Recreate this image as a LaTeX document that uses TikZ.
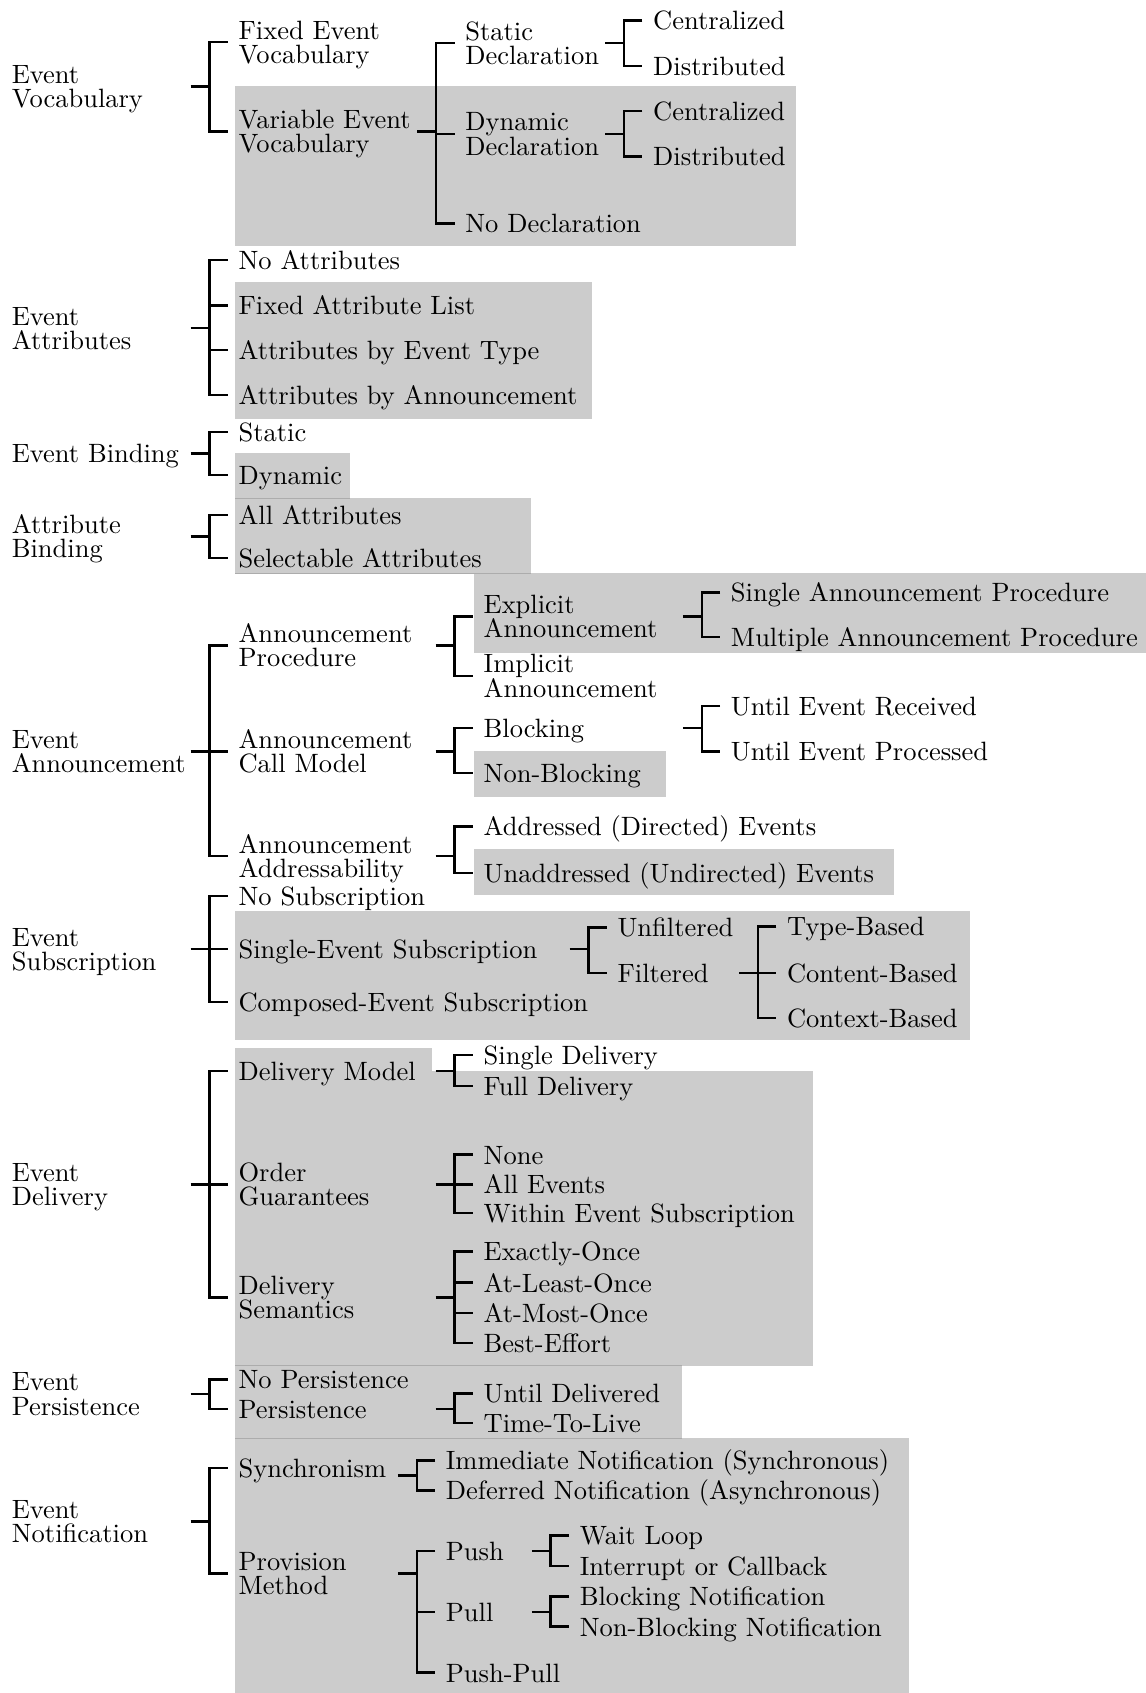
\documentclass[tikz,border=0pt]{standalone}
\usepackage{fontspec}
\definecolor{boxgray}{RGB}{204,204,204}
\definecolor{seamgray}{RGB}{172,172,172}
\newcommand\lblfont{\fontsize{10.6}{9.7}\selectfont}
% two stacked lines; the box baseline is the first line
\newcommand\twoln[2]{\vtop{\baselineskip=9.7pt\lineskiplimit=-20pt\hbox{#1}\hbox{#2}}}
% bracket: stem from the parent row, spine at x=#2, top and bottom ticks
\newcommand\brk[4]{%
  \pgfmathsetmacro\brkA{#2-17.5}%
  \pgfmathsetmacro\brkB{#2+17}%
  \draw[brline] (\brkA,0 |- #1) -- (#2,0 |- #1);
  \draw[brline] (\brkB,0 |- #3.west) -| (#2,0 |- #4.west) -- (\brkB,0 |- #4.west);
}
% extra tick for a middle child
\newcommand\twig[2]{%
  \pgfmathsetmacro\brkB{#1+17}%
  \draw[brline] (#1,0 |- #2.west) -- (\brkB,0 |- #2.west);
}
\begin{document}
\begin{tikzpicture}[x=0.432pt,y=-0.432pt,
  lbl/.style={inner sep=0pt,outer sep=0pt,anchor=west,text height=9.5pt,text depth=2pt,font=\lblfont},
  lbl2/.style={lbl,text height=7.6pt,text depth=10pt},
  brline/.style={line width=1pt,line cap=butt,line join=miter},
  shade/.style={fill=boxgray,draw=none},
  seam/.style={draw=seamgray,line width=0.45pt}]
\useasboundingbox (0,0) rectangle (1061,1568);

% shaded groups
\fill[shade] (218,80) rectangle (737,228);
\fill[shade] (218,261) rectangle (548,388);
\fill[shade] (218,420) rectangle (324,462);
\fill[shade] (218,461) rectangle (492,531);
\fill[shade] (439,531) rectangle (1061,605);
\fill[shade] (439,696) rectangle (617,738);
\fill[shade] (439,786) rectangle (828,829);
\fill[shade] (218,844) rectangle (898,963);
\fill[shade] (218,971) rectangle (400,993);
\fill[shade] (218,992) rectangle (753,1265);
\fill[shade] (218,1264) rectangle (632,1332);
\fill[shade] (218,1332) rectangle (842,1568);
% seams where shaded groups meet
\draw[seam] (218,461.5) -- (324,461.5);
\draw[seam] (218,531) -- (492,531);
\draw[seam] (218,1264.5) -- (632,1264.5);
\draw[seam] (218,1332) -- (632,1332);

% ---- Event Vocabulary
\node[lbl2] (ev) at (11,80) {\twoln{Event}{Vocabulary}};
\node[lbl2] (fev) at (221,39) {\twoln{Fixed Event}{Vocabulary}};
\node[lbl2] (vev) at (221,122) {\twoln{Variable Event}{Vocabulary}};
\node[lbl2] (sd) at (431,40) {\twoln{Static}{Declaration}};
\node[lbl2] (dd) at (431,124) {\twoln{Dynamic}{Declaration}};
\node[lbl] (nd) at (431,207) {No Declaration};
\node[lbl] (c1) at (605,19) {Centralized};
\node[lbl] (d1) at (605,61) {Distributed};
\node[lbl] (c2) at (605,103) {Centralized};
\node[lbl] (d2) at (605,145) {Distributed};
\brk{ev.west}{194}{fev}{vev}
\brk{vev.west}{404}{sd}{nd}
\twig{404}{dd}
\brk{sd.west}{578}{c1}{d1}
\brk{dd.west}{578}{c2}{d2}

% ---- Event Attributes
\node[lbl2] (ea) at (11,304) {\twoln{Event}{Attributes}};
\node[lbl] (na) at (221,241) {No Attributes};
\node[lbl] (fal) at (221,283) {Fixed Attribute List};
\node[lbl] (abet) at (221,324) {Attributes by Event Type};
\node[lbl] (aba) at (221,366) {Attributes by Announcement};
\brk{ea.west}{194}{na}{aba}
\twig{194}{fal}
\twig{194}{abet}

% ---- Event Binding
\node[lbl] (eb) at (11,420) {Event Binding};
\node[lbl] (bst) at (221,400) {Static};
\node[lbl] (bdy) at (221,440) {Dynamic};
\brk{eb.west}{194}{bst}{bdy}

% ---- Attribute Binding
\node[lbl2] (ab) at (11,497) {\twoln{Attribute}{Binding}};
\node[lbl] (aall) at (221,477) {All Attributes};
\node[lbl] (asel) at (221,517) {Selectable Attributes};
\brk{ab.west}{194}{aall}{asel}

% ---- Event Announcement
\node[lbl2] (ean) at (11,696) {\twoln{Event}{Announcement}};
\node[lbl2] (ap) at (221,598) {\twoln{Announcement}{Procedure}};
\node[lbl2] (acm) at (221,696) {\twoln{Announcement}{Call Model}};
\node[lbl2] (aad) at (221,793) {\twoln{Announcement}{Addressability}};
\node[lbl2] (ex) at (448,571) {\twoln{Explicit}{Announcement}};
\node[lbl2] (im) at (448,626) {\twoln{Implicit}{Announcement}};
\node[lbl] (sap) at (677,548.7) {Single Announcement Procedure};
\node[lbl] (map) at (677,590) {Multiple Announcement Procedure};
\node[lbl] (blk) at (448,674.3) {Blocking};
\node[lbl] (nbl) at (448,716) {Non-Blocking};
\node[lbl] (uer) at (677,654) {Until Event Received};
\node[lbl] (uep) at (677,696) {Until Event Processed};
\node[lbl] (adr) at (448,765.4) {Addressed (Directed) Events};
\node[lbl] (unadr) at (448,808.6) {Unaddressed (Undirected) Events};
\brk{ean.west}{194}{ap}{aad}
\twig{194}{acm}
\brk{ap.west}{421}{ex}{im}
\brk{ex.west}{650}{sap}{map}
\brk{acm.west}{421}{blk}{nbl}
\brk{blk.west}{650}{uer}{uep}
\brk{aad.west}{421}{adr}{unadr}

% ---- Event Subscription
\node[lbl2] (es) at (11,879) {\twoln{Event}{Subscription}};
\node[lbl] (nsub) at (221,830) {No Subscription};
\node[lbl] (ses) at (221,879) {Single-Event Subscription};
\node[lbl] (ces) at (221,928) {Composed-Event Subscription};
\node[lbl] (unf) at (572,859) {Unfiltered};
\node[lbl] (fil) at (572,901) {Filtered};
\node[lbl] (tb) at (729,858) {Type-Based};
\node[lbl] (cb) at (729,901) {Content-Based};
\node[lbl] (xb) at (729,943) {Context-Based};
\brk{es.west}{194}{nsub}{ces}
\twig{194}{ses}
\brk{ses.west}{545}{unf}{fil}
\brk{fil.west}{702}{tb}{xb}
\twig{702}{cb}

% ---- Event Delivery
\node[lbl2] (ed) at (11,1097) {\twoln{Event}{Delivery}};
\node[lbl] (dm) at (221,992) {Delivery Model};
\node[lbl2] (og) at (221,1097) {\twoln{Order}{Guarantees}};
\node[lbl2] (ds) at (221,1201.5) {\twoln{Delivery}{Semantics}};
\node[lbl] (sdl) at (448,977) {Single Delivery};
\node[lbl] (fdl) at (448,1006) {Full Delivery};
\node[lbl] (none) at (448,1069.4) {None};
\node[lbl] (alle) at (448,1097) {All Events};
\node[lbl] (wes) at (448,1123.4) {Within Event Subscription};
\node[lbl] (exo) at (448,1159) {Exactly-Once};
\node[lbl] (alo) at (448,1188) {At-Least-Once};
\node[lbl] (amo) at (448,1216) {At-Most-Once};
\node[lbl] (bef) at (448,1243.6) {Best-Effort};
\brk{ed.west}{194}{dm}{ds}
\twig{194}{og}
\brk{dm.west}{421}{sdl}{fdl}
\brk{og.west}{421}{none}{wes}
\twig{421}{alle}
\brk{ds.west}{421}{exo}{bef}
\twig{421}{alo}
\twig{421}{amo}

% ---- Event Persistence
\node[lbl2] (ep) at (11,1291) {\twoln{Event}{Persistence}};
\node[lbl] (nop) at (221,1277.6) {No Persistence};
\node[lbl] (per) at (221,1304.8) {Persistence};
\node[lbl] (ud) at (448,1290.6) {Until Delivered};
\node[lbl] (ttl) at (448,1317.8) {Time-To-Live};
\brk{ep.west}{194}{nop}{per}
\brk{per.west}{421}{ud}{ttl}

% ---- Event Notification
\node[lbl2] (en) at (11,1409) {\twoln{Event}{Notification}};
\node[lbl] (syn) at (221,1359.5) {Synchronism};
\node[lbl2] (pm) at (221,1457.3) {\twoln{Provision}{Method}};
\coordinate (syn-s) at (221,1366.6);
\node[lbl] (ins) at (413,1352.6) {Immediate Notification (Synchronous)};
\node[lbl] (dns) at (413,1380.4) {Deferred Notification (Asynchronous)};
\node[lbl] (push) at (413,1436.6) {Push};
\node[lbl] (pull) at (413,1492.8) {Pull};
\node[lbl] (pp) at (413,1549.2) {Push-Pull};
\node[lbl] (wl) at (537,1422) {Wait Loop};
\node[lbl] (ic) at (537,1450.5) {Interrupt or Callback};
\node[lbl] (bn) at (537,1478.6) {Blocking Notification};
\node[lbl] (nbn) at (537,1506.6) {Non-Blocking Notification};
\brk{en.west}{194}{syn}{pm}
\brk{syn-s}{386}{ins}{dns}
\brk{pm.west}{386}{push}{pp}
\twig{386}{pull}
\brk{push.west}{510}{wl}{ic}
\brk{pull.west}{510}{bn}{nbn}
\end{tikzpicture}
\end{document}
